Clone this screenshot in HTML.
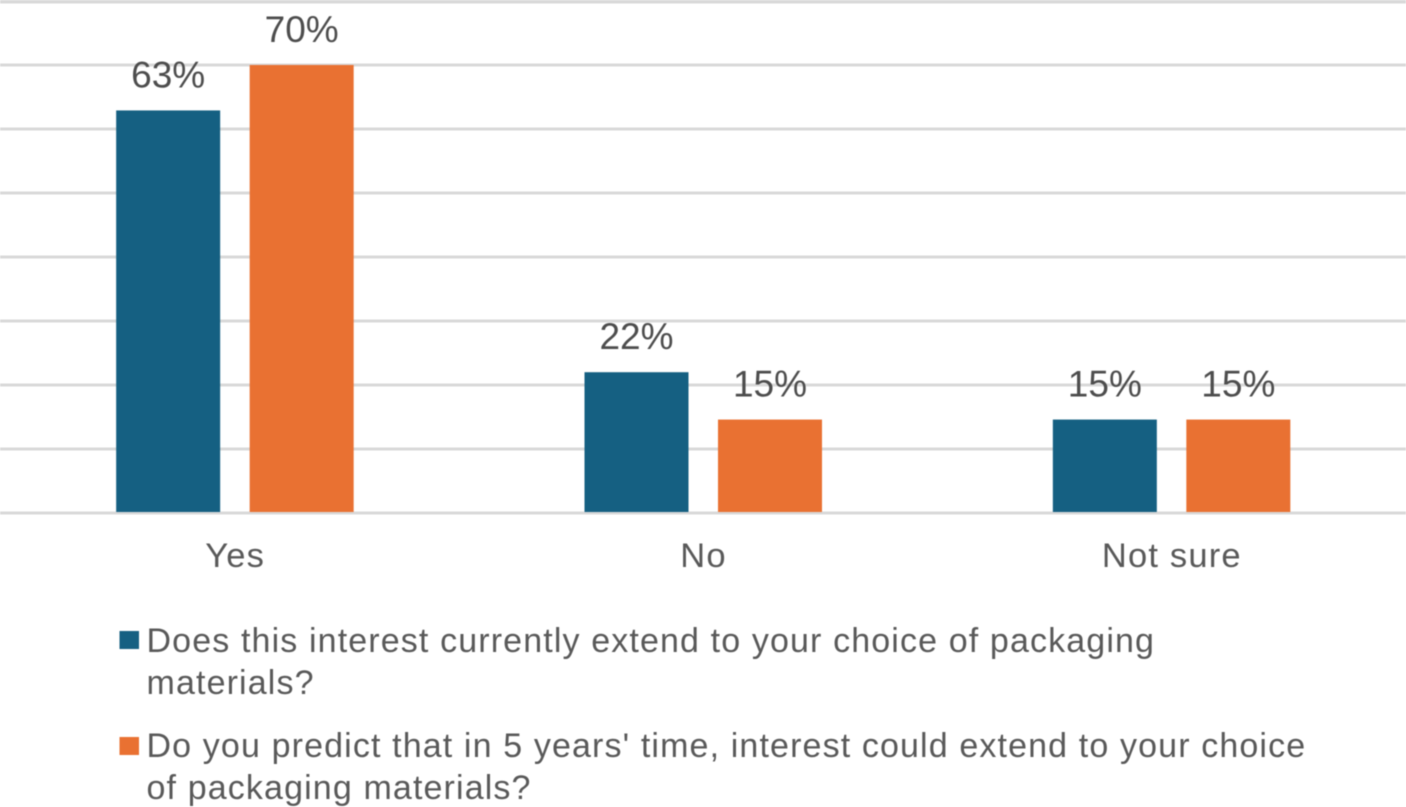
<!DOCTYPE html>
<html lang="en">
<head>
<meta charset="utf-8">
<title>Packaging materials interest chart</title>
<style>
html,body{margin:0;padding:0;background:#fff;width:1406px;height:807px;overflow:hidden}
svg{display:block;filter:blur(0.45px)}
text{font-family:"Liberation Sans",Arial,sans-serif}
</style>
</head>
<body>
<svg id="chart" xmlns="http://www.w3.org/2000/svg" width="1406" height="807" viewBox="0 0 1406 807"></svg>
<script>
const categories = ["Yes", "No", "Not sure"];
const seriesA = [62.9, 22, 14.6];
const seriesB = [70, 14.6, 14.6];
const gridTicks = [0, 10, 20, 30, 40, 50, 60, 70, 80];
const legendA = ["Does this interest currently extend to your choice of packaging", "materials?"];
const legendB = ["Do you predict that in 5 years' time, interest could extend to your choice", "of packaging materials?"];

const NS = "http://www.w3.org/2000/svg";
const svg = document.getElementById("chart");
const plotLeft = 1, plotWidth = 1405, baseY = 513, pxPerUnit = 6.4;
const barW = 104, gapLeft = 15, gapRight = 14.5;
const maxTick = gridTicks[gridTicks.length - 1];
const colorA = "#156082", colorB = "#E97132", textColor = "#595959";

function yScale(v) { return baseY - v * pxPerUnit; }
function xCenter(i) { return plotLeft + plotWidth * (i + 0.5) / categories.length; }
function make(tag, attrs, parent) {
  const el = document.createElementNS(NS, tag);
  for (const k in attrs) el.setAttribute(k, attrs[k]);
  (parent || svg).appendChild(el);
  return el;
}

gridTicks.forEach(function (t) {
  const line = make("line", { x1: 0, x2: 1406, y1: yScale(t), y2: yScale(t), stroke: "#d9d9d9", "stroke-width": t === maxTick ? 5 : 3 });
  
  
});

function drawBar(v, x, color, name, i) {
  const rect = make("rect", { x: x, y: yScale(v), width: barW, height: baseY - 1 - yScale(v), fill: color });
  
  
  const label = make("text", { x: x + barW / 2, y: yScale(v) - 23, "text-anchor": "middle", "font-size": 37, fill: "#4d4d4d" });
  label.textContent = Math.round(v) + "%";
  
  
}

categories.forEach(function (c, i) {
  const cx = xCenter(i);
  drawBar(seriesA[i], cx - gapLeft - barW, colorA, 'current', i);
  drawBar(seriesB[i], cx + gapRight, colorB, 'predicted', i);
  const cat = make("text", { x: cx, y: 567, "text-anchor": "middle", "font-size": 34.5, "letter-spacing": 1.2, fill: textColor });
  cat.textContent = c;
  
  
});

function drawLegend(lines, color, swatchY, firstY, name) {
  const g = make("g", {});
  
  
  const sw = make("rect", { x: 119.5, y: swatchY, width: 19.5, height: 18, fill: color }, g);
  
  
  lines.forEach(function (ln, i) {
    const t = make("text", { x: 146.5, y: firstY + i * 42, "font-size": 34, "letter-spacing": 1.13, fill: textColor }, g);
    t.textContent = ln;
    
    
  });
}
drawLegend(legendA, colorA, 631, 652, 'current');
drawLegend(legendB, colorB, 737, 757, 'predicted');
</script>
</body>
</html>
